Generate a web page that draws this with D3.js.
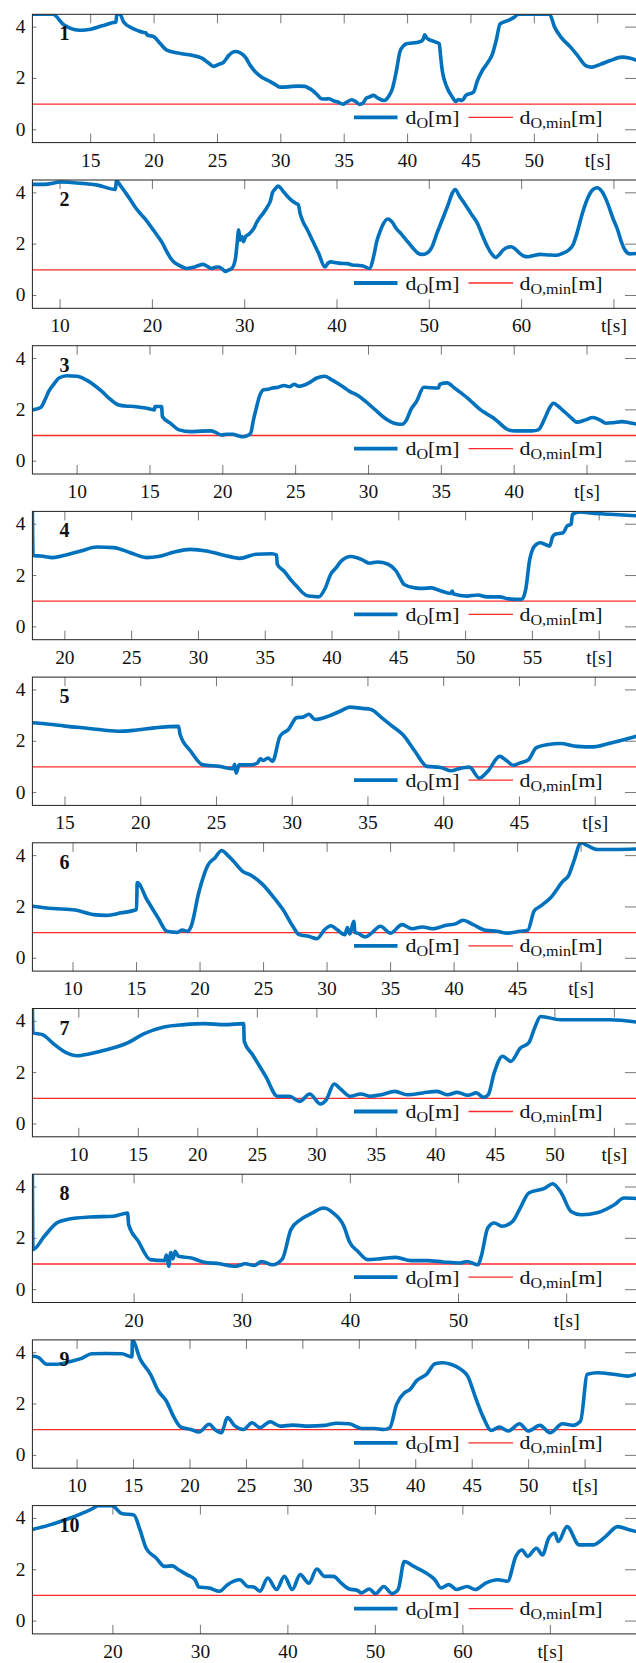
<!DOCTYPE html>
<html>
<head>
<meta charset="utf-8">
<script src="https://cdn.jsdelivr.net/npm/d3@7"></script>
<style>
  body { margin: 0; background: #fff; }
  svg text { font-family: "Liberation Serif", "Times New Roman", "DejaVu Serif", serif; fill: #111; }
</style>
</head>
<body>
<div id="chart"></div>
<script>
// distance to obstacle d_O [m] over time t [s], one array per run: [t, d]
var run1 = [[10.4,4.5],[12.0,4.5],[12.9,4.08],[13.6,3.92],[14.2,3.88],[15.0,3.92],[15.9,4.05],[16.8,4.18],[17.0,4.2],[17.05,4.5],[17.3,4.5],[17.6,4.2],[18.3,3.95],[18.8,3.85],[19.1,3.8],[19.35,3.78],[19.45,3.7],[20.0,3.62],[20.5,3.35],[21.0,3.1],[22.0,2.98],[23.0,2.9],[23.8,2.78],[24.3,2.6],[24.7,2.47],[25.1,2.55],[25.5,2.64],[25.9,2.9],[26.4,3.05],[26.8,3.0],[27.2,2.83],[27.6,2.5],[28.0,2.25],[28.5,2.05],[29.0,1.92],[29.5,1.78],[29.95,1.66],[30.5,1.67],[30.9,1.69],[31.4,1.7],[31.9,1.69],[32.2,1.62],[32.5,1.53],[32.9,1.35],[33.2,1.21],[33.5,1.2],[33.8,1.21],[34.2,1.12],[34.5,1.08],[34.9,1.0],[35.2,1.08],[35.6,1.17],[35.9,1.1],[36.2,0.99],[36.5,1.05],[36.7,1.21],[37.0,1.28],[37.3,1.34],[37.7,1.22],[38.15,1.14],[38.5,1.3],[38.8,1.6],[39.1,2.25],[39.4,3.05],[39.7,3.28],[39.9,3.35],[40.4,3.38],[40.9,3.42],[41.2,3.5],[41.35,3.7],[41.5,3.58],[41.85,3.48],[42.2,3.42],[42.5,3.35],[42.6,2.9],[42.7,2.44],[43.1,1.66],[43.5,1.3],[43.8,1.1],[44.0,1.18],[44.3,1.14],[44.6,1.34],[45.2,1.47],[45.5,1.9],[45.9,2.31],[46.3,2.6],[46.7,2.96],[47.0,3.5],[47.3,4.13],[47.95,4.26],[48.4,4.38],[48.75,4.5],[51.2,4.5],[51.6,4.0],[52.1,3.61],[52.8,3.25],[53.4,2.9],[54.05,2.5],[54.5,2.44],[55.2,2.55],[56.0,2.7],[56.9,2.83],[57.5,2.8],[58.1,2.7]];
var run2 = [[7.0,4.33],[8.3,4.33],[10.1,4.42],[12.3,4.37],[14.05,4.3],[16.0,4.13],[16.1,4.5],[16.3,4.4],[16.7,4.2],[17.2,3.95],[17.6,3.74],[18.2,3.41],[18.8,3.15],[19.3,2.95],[20.0,2.6],[20.6,2.3],[21.1,2.03],[21.5,1.75],[22.0,1.44],[22.4,1.28],[22.85,1.18],[23.3,1.1],[23.7,1.05],[24.2,1.08],[24.6,1.11],[25.0,1.17],[25.5,1.21],[26.0,1.12],[26.4,1.05],[26.8,1.1],[27.2,1.11],[27.6,1.02],[27.9,0.94],[28.3,1.0],[28.6,1.05],[29.0,1.44],[29.2,2.1],[29.35,2.56],[29.5,2.15],[29.7,2.3],[29.85,2.1],[30.1,2.3],[30.5,2.4],[31.0,2.62],[31.3,2.85],[31.6,3.02],[32.0,3.2],[32.5,3.48],[32.8,3.7],[33.0,4.0],[33.3,4.15],[33.6,4.26],[34.3,4.0],[34.8,3.8],[35.2,3.67],[35.6,3.58],[35.8,3.54],[36.0,3.2],[36.3,2.89],[36.8,2.55],[37.4,2.1],[38.0,1.65],[38.7,1.11],[39.0,1.25],[39.3,1.31],[39.8,1.28],[40.4,1.25],[41.1,1.24],[41.8,1.18],[42.4,1.17],[42.9,1.14],[43.5,1.05],[44.0,1.57],[44.3,2.1],[44.6,2.43],[45.0,2.78],[45.5,2.98],[46.0,2.85],[46.4,2.62],[47.0,2.38],[47.5,2.16],[48.1,1.9],[48.8,1.64],[49.2,1.6],[49.7,1.64],[50.3,1.9],[50.8,2.4],[51.4,2.95],[52.1,3.6],[52.5,4.0],[52.8,4.13],[53.3,3.85],[53.9,3.54],[54.5,3.2],[55.2,2.82],[55.8,2.3],[56.3,1.9],[56.8,1.6],[57.2,1.48],[57.6,1.6],[58.0,1.77],[58.5,1.88],[58.9,1.9],[59.4,1.78],[59.8,1.64],[60.3,1.53],[60.7,1.51],[61.3,1.56],[62.0,1.6],[63.0,1.58],[63.8,1.57],[64.5,1.65],[65.1,1.77],[65.6,2.0],[66.0,2.43],[66.5,3.1],[67.1,3.74],[67.6,4.08],[68.2,4.2],[68.7,4.05],[69.3,3.61],[69.9,3.0],[70.4,2.56],[70.8,2.1],[71.2,1.77],[71.7,1.62],[72.5,1.64]];
var run3 = [[6.93,2.0],[7.5,2.09],[7.8,2.4],[8.05,2.72],[8.4,3.0],[8.75,3.24],[9.3,3.33],[10.0,3.31],[10.8,3.11],[11.2,2.95],[11.7,2.72],[12.2,2.45],[12.8,2.2],[13.3,2.15],[13.9,2.13],[14.7,2.07],[15.3,2.0],[15.35,2.13],[15.8,2.13],[15.85,1.74],[16.4,1.48],[17.0,1.22],[17.8,1.15],[18.5,1.17],[19.2,1.18],[19.5,1.12],[19.9,1.02],[20.3,1.05],[20.7,1.05],[21.0,1.0],[21.4,0.95],[21.9,1.08],[22.1,1.6],[22.3,2.07],[22.5,2.5],[22.8,2.78],[23.1,2.8],[23.4,2.85],[23.8,2.88],[24.2,2.95],[24.6,2.9],[24.9,3.0],[25.2,2.92],[25.5,2.95],[25.9,3.05],[26.45,3.24],[27.0,3.31],[27.4,3.2],[27.85,3.05],[28.3,2.88],[28.7,2.72],[29.3,2.55],[29.8,2.33],[30.2,2.13],[30.6,1.93],[31.0,1.73],[31.5,1.54],[32.0,1.45],[32.3,1.44],[32.6,1.6],[32.9,2.0],[33.3,2.33],[33.8,2.88],[34.3,2.86],[34.8,2.85],[34.9,3.0],[35.4,3.05],[35.9,2.85],[36.3,2.68],[36.8,2.46],[37.2,2.25],[37.7,2.0],[38.1,1.85],[38.6,1.67],[39.1,1.43],[39.6,1.22],[40.1,1.18],[40.7,1.18],[41.2,1.18],[41.65,1.22],[42.1,1.67],[42.4,2.05],[42.7,2.26],[43.0,2.15],[43.3,2.0],[43.8,1.75],[44.3,1.52],[44.9,1.61],[45.4,1.7],[45.9,1.6],[46.3,1.48],[46.8,1.5],[47.4,1.54],[47.9,1.5],[48.43,1.44]];
var run4 = [[17.57,4.5],[17.62,2.78],[18.2,2.76],[19.1,2.7],[20.0,2.79],[21.2,2.96],[22.4,3.11],[23.65,3.09],[24.9,2.89],[26.1,2.7],[27.0,2.74],[28.2,2.92],[29.4,3.02],[30.6,2.96],[31.9,2.79],[33.1,2.67],[34.3,2.83],[35.5,2.85],[35.85,2.8],[35.9,2.44],[36.4,2.18],[37.0,1.78],[37.5,1.5],[37.8,1.33],[38.25,1.2],[39.0,1.17],[39.5,1.52],[39.9,2.05],[40.3,2.3],[40.7,2.57],[41.4,2.74],[42.2,2.63],[42.8,2.48],[43.4,2.53],[44.2,2.44],[44.8,2.18],[45.1,1.9],[45.4,1.65],[46.2,1.52],[46.8,1.5],[47.4,1.52],[48.0,1.43],[48.9,1.3],[49.0,1.4],[49.1,1.28],[50.1,1.2],[50.9,1.24],[51.6,1.17],[52.55,1.17],[53.2,1.09],[54.2,1.07],[54.5,1.46],[54.8,2.63],[55.0,3.0],[55.3,3.22],[55.6,3.28],[56.0,3.2],[56.3,3.15],[56.5,3.5],[56.7,3.61],[57.3,3.67],[57.6,3.93],[57.9,4.0],[58.0,4.39],[58.6,4.48],[59.5,4.43],[60.8,4.39],[62.83,4.33]];
var run5 = [[12.85,2.72],[13.66,2.68],[15.0,2.59],[16.6,2.5],[18.5,2.39],[19.6,2.43],[20.9,2.52],[22.5,2.58],[22.6,2.26],[23.3,1.61],[24.1,1.08],[25.2,1.02],[26.1,0.93],[26.2,1.1],[26.3,0.76],[26.5,1.08],[27.3,1.08],[27.7,1.15],[27.9,1.32],[28.1,1.25],[28.4,1.35],[28.7,1.22],[29.2,2.2],[29.75,2.46],[30.3,2.92],[30.7,2.94],[31.1,3.05],[31.5,2.85],[32.4,2.98],[33.2,3.18],[33.8,3.33],[34.6,3.28],[35.2,3.24],[35.9,2.92],[36.6,2.59],[37.3,2.26],[38.1,1.61],[38.9,1.02],[39.8,0.98],[40.5,0.85],[41.0,0.93],[41.7,0.99],[42.35,0.56],[42.9,0.82],[43.7,1.41],[44.2,1.22],[44.6,1.06],[45.0,1.15],[45.6,1.28],[46.1,1.74],[46.9,1.87],[47.7,1.91],[48.8,1.8],[49.9,1.78],[50.9,1.91],[52.76,2.2]];
var run6 = [[6.8,2.03],[8.4,1.94],[10.16,1.88],[11.6,1.7],[12.6,1.67],[13.8,1.77],[15.0,1.9],[15.05,2.95],[15.8,2.3],[16.7,1.57],[17.4,1.05],[18.2,1.01],[18.6,1.1],[19.0,1.05],[19.3,1.25],[19.9,2.56],[20.6,3.61],[21.2,3.93],[21.7,4.2],[22.2,4.0],[22.6,3.8],[23.3,3.41],[24.1,3.21],[24.9,2.89],[25.7,2.43],[26.6,1.84],[27.3,1.25],[27.8,0.92],[28.6,0.85],[29.2,0.76],[29.8,1.11],[30.3,1.27],[30.8,1.11],[31.4,0.92],[31.6,1.2],[31.8,0.95],[32.1,1.44],[32.2,1.0],[32.4,0.98],[33.0,0.83],[33.5,0.98],[34.2,1.25],[35.0,0.98],[35.9,1.31],[36.7,1.15],[37.5,1.22],[38.3,1.15],[39.4,1.29],[40.1,1.34],[40.7,1.48],[41.5,1.31],[42.5,1.09],[43.4,1.05],[44.2,0.98],[45.2,1.05],[45.8,1.09],[46.3,1.84],[46.8,2.03],[47.6,2.36],[48.6,3.02],[49.0,3.21],[49.4,3.74],[50.0,4.5],[50.5,4.39],[51.3,4.24],[52.6,4.24],[54.4,4.26]];
var run7 = [[6.1,4.5],[6.15,3.55],[6.94,3.48],[7.96,3.09],[8.98,2.77],[9.83,2.66],[10.85,2.73],[12.4,2.9],[14.1,3.16],[15.45,3.51],[17.15,3.78],[18.85,3.87],[20.55,3.91],[22.25,3.87],[23.85,3.91],[23.9,3.22],[24.6,2.7],[25.7,1.86],[26.7,1.08],[27.7,1.08],[28.55,0.88],[29.4,1.17],[30.3,0.78],[30.8,0.95],[31.45,1.56],[31.96,1.38],[32.8,1.08],[33.7,1.17],[34.5,1.08],[35.4,1.14],[36.55,1.27],[37.6,1.14],[38.9,1.21],[40.1,1.27],[41.0,1.14],[41.8,1.23],[42.7,1.12],[43.4,1.21],[44.0,1.04],[44.4,1.14],[44.9,1.99],[45.6,2.64],[46.3,2.44],[47.1,2.96],[47.8,3.16],[48.3,3.74],[48.8,4.19],[50.5,4.06],[52.9,4.06],[54.6,4.06],[56.9,3.97]];
var run8 = [[10.6,4.5],[10.65,1.56],[11.7,2.08],[12.85,2.6],[14.0,2.75],[15.9,2.83],[18.1,2.86],[19.4,2.99],[19.5,2.53],[20.4,1.88],[21.5,1.17],[22.8,1.13],[23.0,1.35],[23.2,0.91],[23.4,1.45],[23.6,1.2],[23.8,1.5],[24.1,1.3],[25.3,1.23],[26.4,1.08],[27.9,1.01],[29.4,0.91],[30.3,1.01],[31.1,0.94],[31.8,1.1],[32.8,0.97],[33.7,1.19],[34.5,2.34],[35.4,2.73],[36.5,2.99],[37.5,3.18],[38.4,2.99],[39.4,2.47],[39.9,1.88],[40.7,1.49],[41.6,1.17],[42.9,1.21],[44.2,1.26],[45.6,1.13],[47.1,1.13],[48.6,1.08],[50.1,1.04],[50.8,1.1],[51.8,0.97],[52.1,1.3],[52.7,2.4],[53.3,2.6],[54.0,2.47],[55.0,2.66],[55.7,3.18],[56.5,3.77],[58.0,3.96],[58.7,4.13],[59.5,3.77],[60.4,3.05],[61.35,2.92],[62.9,3.01],[64.4,3.31],[65.3,3.57],[66.5,3.55]];
var run9 = [[6.04,3.87],[6.6,3.81],[7.3,3.55],[8.2,3.55],[9.3,3.65],[10.4,3.78],[11.3,3.96],[12.5,3.97],[13.96,3.96],[14.86,3.84],[14.9,4.48],[15.6,3.74],[16.5,3.16],[17.2,2.51],[17.9,2.12],[18.6,1.47],[19.2,1.1],[20.1,1.01],[20.8,0.91],[21.7,1.21],[22.2,1.01],[22.8,0.88],[23.0,1.1],[23.3,1.47],[24.0,1.14],[24.75,1.01],[25.5,1.27],[26.2,1.08],[27.1,1.31],[28.0,1.14],[29.1,1.18],[30.5,1.14],[31.96,1.17],[33.0,1.25],[34.1,1.23],[35.2,1.05],[36.3,1.05],[37.2,1.01],[37.7,1.08],[38.3,1.99],[39.0,2.44],[39.5,2.57],[40.05,2.9],[40.96,3.16],[41.7,3.57],[42.4,3.61],[43.1,3.55],[44.0,3.35],[44.6,3.09],[45.3,2.25],[46.0,1.47],[46.7,0.97],[47.4,1.1],[48.2,0.95],[49.2,1.23],[49.96,0.95],[51.0,1.17],[51.9,0.88],[53.0,1.23],[53.9,1.17],[54.6,1.34],[55.2,3.16],[56.1,3.22],[57.5,3.16],[58.8,3.09],[59.6,3.18]];
var run10 = [[10.8,3.57],[12.7,3.74],[14.5,3.94],[16.4,4.19],[18.0,4.45],[18.2,4.5],[19.9,4.5],[21.0,4.19],[22.4,4.13],[23.1,3.55],[23.8,2.84],[24.97,2.45],[25.9,2.13],[26.8,2.15],[27.5,2.0],[28.45,1.81],[29.4,1.61],[29.8,1.33],[31.0,1.29],[32.2,1.16],[33.1,1.42],[34.5,1.61],[35.4,1.35],[36.1,1.33],[36.8,1.16],[37.7,1.68],[38.7,1.23],[39.6,1.74],[40.5,1.23],[41.4,1.81],[42.4,1.48],[43.3,2.03],[44.2,1.74],[45.2,1.74],[46.1,1.48],[47.0,1.25],[47.9,1.2],[48.4,1.1],[49.3,1.25],[50.0,1.07],[50.96,1.35],[51.9,1.07],[52.6,1.23],[53.3,2.32],[54.4,2.13],[55.8,1.87],[56.8,1.61],[57.5,1.29],[58.4,1.42],[59.3,1.23],[60.5,1.35],[61.4,1.23],[62.6,1.48],[64.0,1.61],[65.1,1.55],[66.05,2.52],[66.75,2.77],[67.4,2.52],[68.4,2.84],[69.1,2.58],[69.8,3.23],[70.5,3.42],[70.9,3.1],[71.9,3.68],[73.3,2.97],[74.9,2.97],[76.3,3.29],[77.7,3.68],[78.9,3.57],[79.9,3.48]];

var runs = [run1, run2, run3, run4, run5, run6, run7, run8, run9, run10];
var runLabels = ['1', '2', '3', '4', '5', '6', '7', '8', '9', '10'];

// visible time window of each panel
var xDomains = [[10.4, 58.1], [7.0, 72.5], [6.93, 48.43], [17.57, 62.83], [12.85, 52.76],
                [6.8, 54.4], [6.1, 56.9], [10.6, 66.5], [6.04, 59.6], [10.8, 79.9]];
// x ticks; the last tick of each panel carries the axis label instead of a number
var xTicks = [
    [15, 20, 25, 30, 35, 40, 45, 50, 55],
    [10, 20, 30, 40, 50, 60, 70],
    [10, 15, 20, 25, 30, 35, 40, 45],
    [20, 25, 30, 35, 40, 45, 50, 55, 60],
    [15, 20, 25, 30, 35, 40, 45, 50],
    [10, 15, 20, 25, 30, 35, 40, 45, 50],
    [10, 15, 20, 25, 30, 35, 40, 45, 50, 55],
    [20, 30, 40, 50, 60],
    [10, 15, 20, 25, 30, 35, 40, 45, 50, 55],
    [20, 30, 40, 50, 60, 70]
];
var xLabel = 't[s]';
var yDomain = [-0.5, 4.5];
var yTicks = [0, 2, 4];
var dMin = 1;

var width = 636, height = 1663;
var left = 32.4, right = 637;
var panelTop = 14.3, panelStep = 165.7, panelH = 128.3;
var blue = '#0072bd', red = '#ff2a2a';
// the source figure is stretched a little horizontally, text too
var stretch = 1.08, legendStretch = 1.15;

var svg = d3.select('#chart').append('svg')
    .attr('width', width)
    .attr('height', height)
    .attr('font-family', '"Liberation Serif", "Times New Roman", serif');

// a text that is scaled in x around its anchor point
function label(parent, x, y, sx, anchor, size) {
    return parent.append('g')
        .attr('transform', 'translate(' + x + ',' + y + ') scale(' + sx + ',1)')
        .append('text')
        .attr('text-anchor', anchor)
        .style('font-size', size + 'px');
}

runs.forEach(function (run, i) {
    var top = panelTop + i * panelStep;
    var x = d3.scaleLinear().domain(xDomains[i]).range([left, right]);
    var y = d3.scaleLinear().domain(yDomain).range([top + panelH, top]);
    var g = svg.append('g').attr('class', 'panel');

    g.append('clipPath').attr('id', 'clip' + i)
        .append('rect')
        .attr('x', left).attr('y', top)
        .attr('width', right - left).attr('height', panelH);

    // x ticks, top and bottom, drawn inward
    var ticks = xTicks[i];
    ticks.forEach(function (d, k) {
        g.append('line')
            .attr('x1', x(d)).attr('x2', x(d))
            .attr('y1', top + panelH).attr('y2', top + panelH - 9)
            .attr('stroke', '#777').attr('stroke-width', 1);
        g.append('line')
            .attr('x1', x(d)).attr('x2', x(d))
            .attr('y1', top).attr('y2', top + 9)
            .attr('stroke', '#777').attr('stroke-width', 1);
        label(g, x(d), top + panelH + 24, stretch, 'middle', 18)
            .text(k === ticks.length - 1 ? xLabel : d);
    });

    // y ticks
    yTicks.forEach(function (d) {
        g.append('line')
            .attr('x1', left).attr('x2', left + 4)
            .attr('y1', y(d)).attr('y2', y(d))
            .attr('stroke', '#777').attr('stroke-width', 1);
        g.append('line')
            .attr('x1', 625).attr('x2', right)
            .attr('y1', y(d)).attr('y2', y(d))
            .attr('stroke', '#777').attr('stroke-width', 1);
        label(g, 25.5, y(d) + 6, stretch, 'end', 18).text(d);
    });

    // minimum distance
    g.append('line')
        .attr('x1', left).attr('x2', right)
        .attr('y1', y(dMin)).attr('y2', y(dMin))
        .attr('stroke', red).attr('stroke-width', 1.3);

    var line = d3.line()
        .x(function (d) { return x(d[0]); })
        .y(function (d) { return y(d[1]); })
        .curve(d3.curveMonotoneX);

    g.append('path')
        .datum(run)
        .attr('clip-path', 'url(#clip' + i + ')')
        .attr('d', line)
        .attr('fill', 'none')
        .attr('stroke', blue)
        .attr('stroke-width', 3.6)
        .attr('stroke-linejoin', 'round');

    // frame
    g.append('rect')
        .attr('x', left).attr('y', top)
        .attr('width', right - left).attr('height', panelH)
        .attr('fill', 'none')
        .attr('stroke', '#222').attr('stroke-width', 1);

    // run number
    label(g, 59.5, top + 26, 1, 'start', 20)
        .style('font-weight', 'bold')
        .text(runLabels[i]);

    // legend
    var ly = top + 103;
    g.append('line')
        .attr('x1', 354).attr('x2', 397.5)
        .attr('y1', ly).attr('y2', ly)
        .attr('stroke', blue).attr('stroke-width', 3.8);
    var t1 = label(g, 405.5, ly + 6.5, legendStretch, 'start', 19);
    t1.append('tspan').text('d');
    t1.append('tspan').attr('dy', 4).style('font-size', '14px').text('O');
    t1.append('tspan').attr('dy', -4).text('[m]');
    g.append('line')
        .attr('x1', 468.5).attr('x2', 513)
        .attr('y1', ly).attr('y2', ly)
        .attr('stroke', red).attr('stroke-width', 1.3);
    var t2 = label(g, 519.5, ly + 6.5, legendStretch, 'start', 19);
    t2.append('tspan').text('d');
    t2.append('tspan').attr('dy', 4).style('font-size', '14px').text('O,min');
    t2.append('tspan').attr('dy', -4).text('[m]');
});
</script>
</body>
</html>
